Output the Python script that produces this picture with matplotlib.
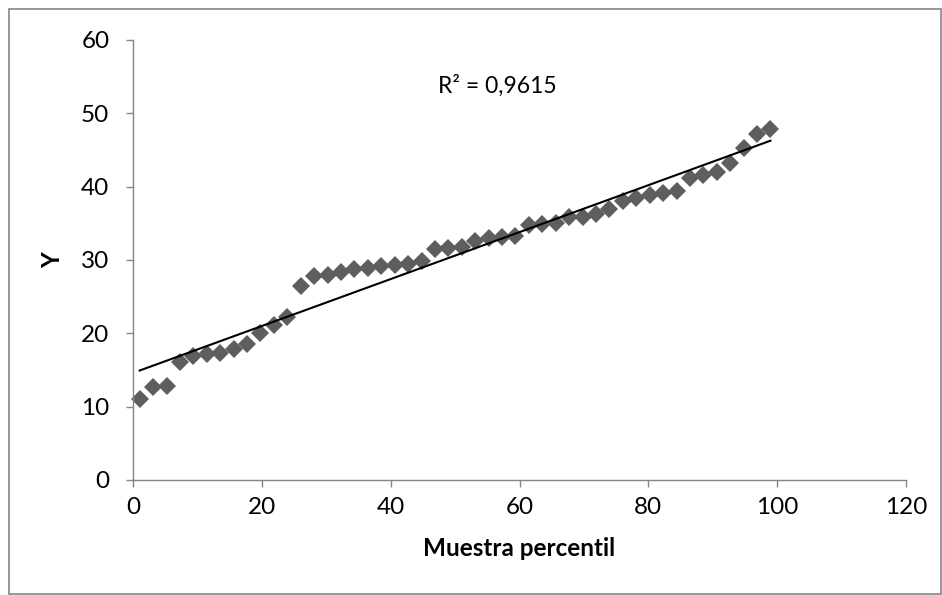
import matplotlib
matplotlib.use('Agg')

import matplotlib.pyplot as plt
import numpy as np
from matplotlib.patches import Rectangle

plt.rcParams['font.family'] = ['Lato', 'DejaVu Sans']

# 48 percentiles, plotted at (i - 0.5) / n * 100
n_points = 48
y_values = [11.1, 12.7, 12.8, 16.1, 16.9, 17.2, 17.3, 17.8, 18.5, 20.0,
            21.2, 22.2, 26.4, 27.8, 28.0, 28.3, 28.8, 28.9, 29.2, 29.3,
            29.5, 29.8, 31.5, 31.6, 31.8, 32.6, 33.0, 33.2, 33.3, 34.8,
            34.9, 35.0, 35.8, 35.9, 36.3, 37.0, 38.0, 38.5, 38.8, 39.2,
            39.4, 41.2, 41.6, 42.0, 43.2, 45.3, 47.2, 47.9]
x_values = [(i - 0.5) / n_points * 100 for i in range(1, n_points + 1)]
r2_label = 'R² = 0,9615'

x_ticks = [0, 20, 40, 60, 80, 100, 120]
y_ticks = [0, 10, 20, 30, 40, 50, 60]

fig = plt.figure(figsize=(9.42, 5.95), dpi=100)
ax = fig.add_axes([133 / 942, 1 - 480 / 595, (906 - 133) / 942, (480 - 40) / 595])

# linear trend line (Excel style)
slope, intercept = np.polyfit(x_values, y_values, 1)
xs = np.array([x_values[0], x_values[-1]])
ax.plot(xs, slope * xs + intercept, color='black', linewidth=1.5, zorder=3)

ax.plot(x_values, y_values, 'D', color='#5e5e5e', markersize=9,
        markeredgewidth=0, zorder=2, clip_on=False)

ax.text(56.5, 53.7, r2_label, fontsize=16.5, ha='center', va='center')

ax.set_xlim(0, 120)
ax.set_ylim(0, 60)
ax.set_xticks(x_ticks)
ax.set_yticks(y_ticks)
ax.tick_params(direction='out', length=5, width=1, color='#868686',
               labelsize=17.5)
ax.tick_params(axis='y', pad=12)
ax.tick_params(axis='x', pad=7)
for side in ['top', 'right']:
    ax.spines[side].set_visible(False)
for side in ['left', 'bottom']:
    ax.spines[side].set_color('#868686')
    ax.spines[side].set_linewidth(1)

ax.set_xlabel('Muestra percentil', fontsize=17.5, fontweight='bold', labelpad=14)
ax.set_ylabel('Y', fontsize=17.5, fontweight='bold', labelpad=12)

# chart-area border
fig.patches.append(Rectangle((8.5 / 942, 1.5 / 595), 932 / 942, 585 / 595,
                             transform=fig.transFigure, fill=False,
                             edgecolor='#868686', linewidth=1.2))

plt.savefig('out.png', dpi=100)
